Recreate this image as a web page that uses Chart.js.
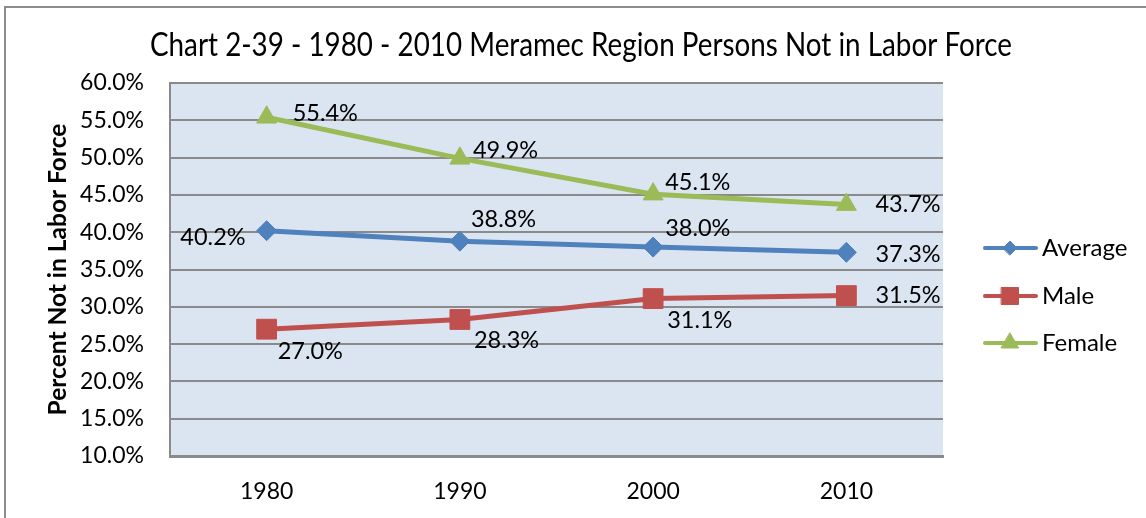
<!DOCTYPE html>
<html>
<head>
<meta charset="utf-8">
<title>Chart 2-39</title>
<script src="https://cdn.jsdelivr.net/npm/chart.js@4.4.1/dist/chart.umd.min.js"></script>
<style>
    body { margin: 0; background: #ffffff; }
    #wrap { width: 1146px; height: 518px; }
</style>
</head>
<body>
<div id="wrap"><canvas id="chart" width="1146" height="518"></canvas></div>
<script>
// chart data
const categories = ['1980', '1990', '2000', '2010'];
const seriesNames = ['Average', 'Male', 'Female'];
const averageValues = [40.2, 38.8, 38.0, 37.3];
const maleValues = [27.0, 28.3, 31.1, 31.5];
const femaleValues = [55.4, 49.9, 45.1, 43.7];
const yTicks = [10, 15, 20, 25, 30, 35, 40, 45, 50, 55, 60];

const TITLE = 'Chart 2-39 - 1980 - 2010 Meramec Region Persons Not in Labor Force';
const Y_TITLE = 'Percent Not in Labor Force';
const FONT = 'Lato, "Open Sans", sans-serif';

const COLORS = ['#4f81bd', '#c0504d', '#9bbb59'];
const MARKERS = [
    { style: 'rectRot', radius: 10 },
    { style: 'rect', radius: 14 },
    { style: 'triangle', radius: 11.5 }
];

// where each value label sits relative to its point: [dx, dy, align]
const labelPlacement = [
    [[-21, 7, 'right'], [11, -22, 'left'], [12, -19, 'left'], [29, 2, 'left']],
    [[11, 22, 'left'], [14, 21, 'left'], [14, 22, 'left'], [29, 0, 'left']],
    [[26, -4, 'left'], [13, -8, 'left'], [12, -12, 'left'], [29, 0, 'left']]
];

const frame = {
    id: 'frame',
    beforeDraw(chart) {
        const { ctx, chartArea: a } = chart;
        ctx.save();
        ctx.fillStyle = '#ffffff';
        ctx.fillRect(0, 0, chart.width, chart.height);
        // outer chart border (only top and left are inside the picture)
        ctx.strokeStyle = '#8c8c8c';
        ctx.lineWidth = 2;
        ctx.beginPath();
        ctx.moveTo(5, chart.height + 5);
        ctx.lineTo(5, 7);
        ctx.lineTo(chart.width + 5, 7);
        ctx.stroke();
        // plot background
        ctx.fillStyle = '#dbe5f1';
        ctx.fillRect(a.left, a.top, a.right - a.left, a.bottom - a.top);
        // title, squeezed to the narrow width of the original face
        ctx.fillStyle = '#000000';
        ctx.font = '32px ' + FONT;
        ctx.textAlign = 'center';
        ctx.textBaseline = 'middle';
        const w = ctx.measureText(TITLE).width;
        const sx = Math.min(1, 862 / w);
        ctx.translate(581, 46);
        ctx.scale(sx, 1);
        ctx.fillText(TITLE, 0, 0);
        ctx.restore();
    }
};

const valueLabels = {
    id: 'valueLabels',
    afterDatasetsDraw(chart) {
        const { ctx } = chart;
        ctx.save();
        ctx.font = '23.5px ' + FONT;
        ctx.fillStyle = '#000000';
        ctx.textBaseline = 'middle';
        chart.data.datasets.forEach((ds, i) => {
            const meta = chart.getDatasetMeta(i);
            meta.data.forEach((pt, j) => {
                const [dx, dy, align] = labelPlacement[i][j];
                ctx.textAlign = align;
                ctx.fillText(ds.data[j].toFixed(1) + '%', pt.x + dx, pt.y + dy);
            });
        });
        ctx.restore();
    }
};

const sideLegend = {
    id: 'sideLegend',
    afterDraw(chart) {
        const { ctx } = chart;
        const rows = [248, 296, 343];
        const legendMarkers = [
            { style: 'rectRot', radius: 7 },
            { style: 'rect', radius: 12 },
            { style: 'triangle', radius: 10 }
        ];
        ctx.save();
        chart.data.datasets.forEach((ds, i) => {
            const y = rows[i];
            ctx.strokeStyle = ds.borderColor;
            ctx.lineWidth = 4;
            ctx.lineCap = 'round';
            ctx.beginPath();
            ctx.moveTo(985, y);
            ctx.lineTo(1036, y);
            ctx.stroke();
            ctx.fillStyle = ds.backgroundColor;
            ctx.strokeStyle = ds.borderColor;
            ctx.lineWidth = 1;
            Chart.helpers.drawPoint(ctx, {
                pointStyle: legendMarkers[i].style,
                radius: legendMarkers[i].radius,
                rotation: 0,
                borderWidth: 1
            }, 1010, y);
            ctx.fillStyle = '#000000';
            ctx.font = '24px ' + FONT;
            ctx.textAlign = 'left';
            ctx.textBaseline = 'middle';
            ctx.fillText(ds.label, 1042, y);
        });
        ctx.restore();
    }
};

const seriesValues = [averageValues, maleValues, femaleValues];

new Chart(document.getElementById('chart'), {
    type: 'line',
    data: {
        labels: categories,
        datasets: seriesNames.map((name, i) => ({
            label: name,
            data: seriesValues[i],
            borderColor: COLORS[i],
            backgroundColor: COLORS[i],
            borderWidth: 5,
            tension: 0,
            pointStyle: MARKERS[i].style,
            pointRadius: MARKERS[i].radius,
            pointBorderWidth: 1,
            pointBackgroundColor: COLORS[i],
            pointBorderColor: COLORS[i],
            fill: false
        }))
    },
    options: {
        responsive: false,
        animation: false,
        layout: { padding: { left: 0, top: 83, right: 203, bottom: 0 } },
        plugins: {
            legend: { display: false },
            tooltip: { enabled: false }
        },
        scales: {
            x: {
                offset: true,
                afterFit(scale) { scale.height = 62; },
                grid: { display: false, drawTicks: false },
                border: { display: true, color: '#8a8a8a', width: 3 },
                ticks: { color: '#000000', font: { family: FONT, size: 23 }, padding: 22 }
            },
            y: {
                min: yTicks[0],
                max: yTicks[yTicks.length - 1],
                afterFit(scale) { scale.width = 170; },
                afterBuildTicks(scale) { scale.ticks = yTicks.map(v => ({ value: v })); },
                grid: { color: '#8a8a8a', lineWidth: 2, drawTicks: false },
                border: { display: true, color: '#8a8a8a', width: 2 },
                ticks: {
                    color: '#000000',
                    font: { family: FONT, size: 23 },
                    padding: 26,
                    callback: v => v.toFixed(1) + '%'
                },
                title: {
                    display: true,
                    text: Y_TITLE,
                    color: '#000000',
                    font: { family: FONT, size: 24.5, weight: 'bold' },
                    padding: { top: 43, bottom: 0 }
                }
            }
        }
    },
    plugins: [frame, valueLabels, sideLegend]
});
</script>
</body>
</html>
